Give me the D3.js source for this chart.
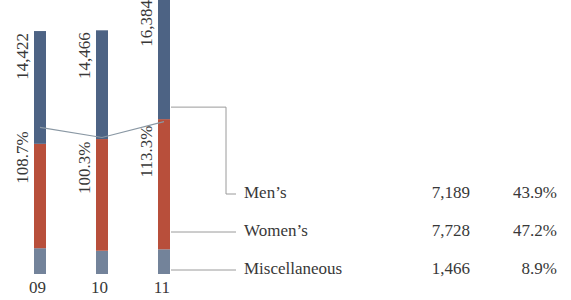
<!DOCTYPE html>
<html lang="en">
<head>
<meta charset="utf-8">
<title>Sales by category</title>
<script src="https://cdn.jsdelivr.net/npm/d3@7"></script>
<style>
  body { margin: 0; background: #fff; }
  .leader { fill: none; stroke: #9a9a9a; stroke-width: 1; }
  .trend { fill: none; stroke: #8a98a4; stroke-width: 1.2; }
</style>
</head>
<body>
<div id="chart"></div>
<script>
  // data
  var years = ["09", "10", "11"];
  var mens = [6695, 6455, 7189];
  var womens = [6196, 6631, 7728];
  var misc = [1531, 1380, 1466];
  var totals = [14422, 14466, 16384];
  var growth = [108.7, 100.3, 113.3];
  var categories = ["Men\u2019s", "Women\u2019s", "Miscellaneous"];
  var colors = ["#4d6384", "#b84f3b", "#73839a"];

  var width = 571, height = 300;
  var serif = "'Liberation Serif', 'Times New Roman', serif";

  var svg = d3.select("#chart").append("svg")
      .attr("width", width)
      .attr("height", height)
      .style("font-family", serif)
      .style("font-size", "17px");

  function label(sel) {
    return sel.style("font-family", serif).style("font-size", "17px").attr("fill", "#383838");
  }

  var rows = years.map(function(y, i) {
    return { year: y, men: mens[i], women: womens[i], misc: misc[i], total: totals[i], growth: growth[i] };
  });

  var series = d3.stack().keys(["misc", "women", "men"])(rows);

  var x = d3.scalePoint().domain(years).range([40, 164]);
  var y = d3.scaleLinear().domain([0, 16384]).range([274, -2]);
  var yLine = d3.scaleLinear().domain([100, 120]).range([137.86, 113.56]);
  var barW = 12;

  var color = d3.scaleOrdinal().domain(["men", "women", "misc"]).range(colors);

  // bars
  svg.append("g").selectAll("g")
      .data(series)
    .enter().append("g")
      .attr("fill", function(s) { return color(s.key); })
    .selectAll("rect")
      .data(function(s) { return s; })
    .enter().append("rect")
      .attr("x", function(d) { return x(d.data.year) - barW / 2; })
      .attr("y", function(d) { return y(d[1]); })
      .attr("width", barW)
      .attr("height", function(d) { return y(d[0]) - y(d[1]); });

  // growth line
  svg.append("path")
      .datum(rows)
      .attr("class", "trend")
      .attr("d", d3.line()
        .x(function(d) { return x(d.year); })
        .y(function(d) { return yLine(d.growth); }));

  // totals, rotated
  svg.append("g").selectAll("text")
      .data(rows)
    .enter().append("text")
      .call(label)
      .attr("text-anchor", "end")
      .attr("transform", function(d) {
        return "translate(" + (x(d.year) - barW / 2 - 6) + "," + (y(d.total) + 2) + ") rotate(-90)";
      })
      .text(function(d) { return d3.format(",")(d.total); });

  // growth labels, rotated
  svg.append("g").selectAll("text")
      .data(rows)
    .enter().append("text")
      .call(label)
      .attr("text-anchor", "end")
      .attr("transform", function(d) {
        return "translate(" + (x(d.year) - barW / 2 - 6) + "," + (yLine(d.growth) + 4) + ") rotate(-90)";
      })
      .text(function(d) { return d.growth.toFixed(1) + "%"; });

  // year axis
  svg.append("g").selectAll("text")
      .data(years)
    .enter().append("text")
      .call(label)
      .attr("text-anchor", "end")
      .attr("x", function(d) { return x(d) + barW / 2; })
      .attr("y", 293)
      .text(function(d) { return d; });

  // legend table for the latest year
  var last = rows[rows.length - 1];
  var legend = [
    { name: categories[0], value: last.men, segBottom: y(last.women + last.misc) },
    { name: categories[1], value: last.women, segBottom: y(last.misc) },
    { name: categories[2], value: last.misc, segBottom: y(0) }
  ];
  var rowY = d3.scalePoint().domain(d3.range(legend.length)).range([198, 274]);
  var barRight = x(last.year) + barW / 2;

  legend.forEach(function(d, i) {
    var ly = rowY(i) - 4;
    var path;
    if (i === 0) {
      path = "M" + (barRight + 1) + "," + (d.segBottom - 12) + "H226V" + ly + "H236";
    } else {
      path = "M" + (barRight + 1) + "," + ly + "H236";
    }
    svg.append("path").attr("class", "leader").attr("d", path);

    svg.append("text").call(label).attr("x", 244).attr("y", rowY(i)).text(d.name);
    svg.append("text").call(label).attr("x", 470).attr("y", rowY(i)).attr("text-anchor", "end")
        .text(d3.format(",")(d.value));
    svg.append("text").call(label).attr("x", 557).attr("y", rowY(i)).attr("text-anchor", "end")
        .text((d.value / last.total * 100).toFixed(1) + "%");
  });
</script>
</body>
</html>
